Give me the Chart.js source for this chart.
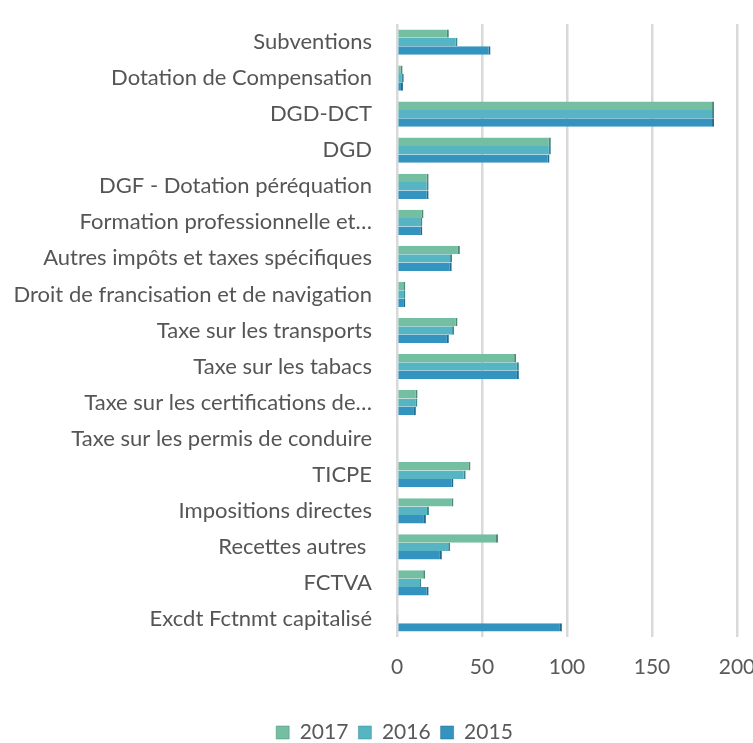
<!DOCTYPE html>
<html>
<head>
<meta charset="utf-8">
<script src="https://cdn.jsdelivr.net/npm/chart.js@4/dist/chart.umd.min.js"></script>
<style>
html,body{margin:0;padding:0;background:#fff;}
#wrap{width:753px;height:743px;position:relative;}
</style>
</head>
<body>
<div id="wrap"><canvas id="c" width="753" height="743"></canvas></div>
<script>
const categories = [
  "Subventions",
  "Dotation de Compensation",
  "DGD-DCT",
  "DGD",
  "DGF - Dotation péréquation",
  "Formation professionnelle et…",
  "Autres impôts et taxes spécifiques",
  "Droit de francisation et de navigation",
  "Taxe sur les transports",
  "Taxe sur les tabacs",
  "Taxe sur les certifications de…",
  "Taxe sur les permis de conduire",
  "TICPE",
  "Impositions directes",
  "Recettes autres ",
  "FCTVA",
  "Excdt Fctnmt capitalisé"
];
const values2017 = [30.5, 3.3, 186.5, 90.5, 18.6, 15.6, 37, 4.9, 35.6, 70.1, 12.1, 0.8, 43.2, 33.2, 59.4, 16.6, 0.8];
const values2016 = [35.6, 4.0, 186.5, 90.5, 18.6, 14.9, 32.4, 4.9, 33.6, 71.7, 12.0, 0.8, 40.4, 18.8, 31.3, 14.3, 0.3];
const values2015 = [55.0, 3.5, 186.5, 89.7, 18.6, 14.9, 32.2, 4.9, 30.5, 71.7, 11.1, 0.8, 33.2, 17.0, 26.4, 18.6, 97.0];
const seriesLabels = ["2017", "2016", "2015"];
const xTicks = [0, 50, 100, 150, 200];

const colors = ["#74bea2", "#57b5c3", "#3593bf"];
const edges = ["#4f8a74", "#3a8894", "#226b8e"];
const data = {
  labels: categories,
  datasets: [values2017, values2016, values2015].map((v, i) => ({
    label: seriesLabels[i],
    data: v,
    backgroundColor: colors[i],
    borderColor: edges[i],
    borderWidth: {top: 0, bottom: 0, left: 0, right: 2},
    borderSkipped: false,
    categoryPercentage: 0.7,
    barPercentage: 1.0
  }))
};
const fam = "Lato, sans-serif";
const legendShift = {
  id: 'legendShift',
  afterLayout(chart) {
    if (chart.legend) { chart.legend.left += 16; chart.legend.right += 16; }
  }
};
new Chart(document.getElementById('c'), {
  type: 'bar',
  data,
  plugins: [legendShift],
  options: {
    indexAxis: 'y',
    responsive: false,
    animation: false,
    layout: {padding: {top: 24, bottom: -10, left: 4, right: 0}},
    scales: {
      x: {
        min: 0, max: 200,
        afterBuildTicks: (axis) => { axis.ticks = xTicks.map(v => ({value: v})); },
        afterFit: (axis) => { axis.paddingRight = 16; axis.paddingLeft = 0; axis.height = 75; },
        grid: {color: '#d9d9d9', lineWidth: 2.5, drawTicks: false},
        border: {display: false},
        ticks: {color: '#595959', font: {family: fam, size: 21}, padding: 18}
      },
      y: {
        afterFit: (axis) => { axis.width = 393; axis.paddingTop = 0; axis.paddingBottom = 0; },
        grid: {display: false},
        border: {display: false},
        ticks: {color: '#555555', font: {family: fam, size: 22}, padding: 17, autoSkip: false}
      }
    },
    plugins: {
      legend: {
        position: 'bottom',
        labels: {color: '#595959', font: {family: fam, size: 21}, boxWidth: 13, boxHeight: 13, padding: 10, useBorderRadius: false},
      },
      tooltip: {enabled: false}
    }
  }
});
</script>
</body>
</html>
